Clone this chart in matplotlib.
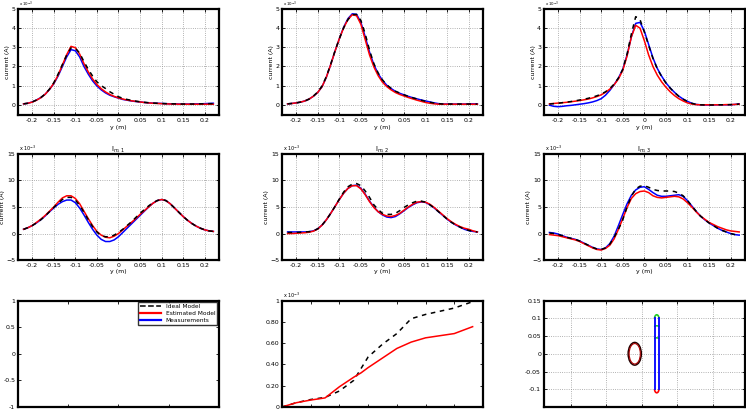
import numpy as np
import matplotlib
matplotlib.use('Agg')
import matplotlib.pyplot as plt
from matplotlib.patches import Ellipse, Arc

# y position (m), shared by the six current profiles
y_pos = np.round(np.arange(-0.22, 0.2201, 0.01), 2)

# top row: total current (x 10^-3 A)
top1_meas = [0.05, 0.08, 0.15, 0.25, 0.38, 0.55, 0.80, 1.10, 1.50, 2.00, 2.50, 2.88, 2.82, 2.50, 2.00, 1.60,
             1.25, 0.98, 0.78, 0.62, 0.50, 0.42, 0.35, 0.28, 0.24, 0.20, 0.17, 0.15, 0.12, 0.10, 0.09, 0.08,
             0.07, 0.06, 0.05, 0.05, 0.04, 0.04, 0.04, 0.04, 0.05, 0.05, 0.06, 0.07, 0.08]
top1_est = [0.05, 0.08, 0.14, 0.24, 0.37, 0.55, 0.80, 1.12, 1.55, 2.08, 2.62, 3.05, 2.98, 2.65, 2.15, 1.72,
            1.35, 1.06, 0.84, 0.67, 0.54, 0.44, 0.36, 0.30, 0.25, 0.21, 0.18, 0.15, 0.12, 0.10, 0.08, 0.07,
            0.06, 0.05, 0.04, 0.04, 0.03, 0.03, 0.03, 0.03, 0.03, 0.03, 0.03, 0.03, 0.03]
top1_ideal = [0.05, 0.08, 0.15, 0.25, 0.38, 0.56, 0.82, 1.15, 1.60, 2.10, 2.60, 2.97, 2.95, 2.70, 2.25, 1.85,
              1.50, 1.20, 1.00, 0.85, 0.68, 0.55, 0.42, 0.34, 0.28, 0.23, 0.19, 0.16, 0.13, 0.11, 0.09, 0.08,
              0.07, 0.06, 0.05, 0.05, 0.04, 0.04, 0.04, 0.04, 0.04, 0.05, 0.05, 0.06, 0.06]

top2_meas = [0.05, 0.07, 0.10, 0.14, 0.20, 0.30, 0.45, 0.65, 0.95, 1.45, 2.10, 2.80, 3.45, 4.05, 4.50, 4.75,
             4.72, 4.30, 3.55, 2.75, 2.10, 1.62, 1.28, 1.02, 0.85, 0.70, 0.60, 0.52, 0.44, 0.37, 0.31, 0.25,
             0.20, 0.15, 0.10, 0.06, 0.04, 0.04, 0.04, 0.04, 0.04, 0.04, 0.05, 0.05, 0.05]
top2_est = [0.05, 0.07, 0.10, 0.14, 0.20, 0.30, 0.45, 0.65, 0.95, 1.45, 2.10, 2.80, 3.45, 4.02, 4.45, 4.70,
            4.65, 4.20, 3.40, 2.60, 1.98, 1.52, 1.18, 0.95, 0.78, 0.64, 0.54, 0.46, 0.38, 0.31, 0.24, 0.18,
            0.12, 0.08, 0.05, 0.03, 0.03, 0.03, 0.03, 0.03, 0.03, 0.03, 0.03, 0.03, 0.03]
top2_ideal = [0.05, 0.07, 0.10, 0.14, 0.20, 0.30, 0.46, 0.67, 0.98, 1.48, 2.12, 2.82, 3.45, 4.02, 4.45, 4.70,
              4.72, 4.40, 3.70, 2.85, 2.15, 1.66, 1.30, 1.04, 0.86, 0.71, 0.61, 0.52, 0.44, 0.37, 0.30, 0.24,
              0.18, 0.13, 0.09, 0.06, 0.04, 0.04, 0.04, 0.04, 0.04, 0.04, 0.04, 0.04, 0.04]

top3_meas = [-0.02, -0.08, -0.10, -0.08, -0.05, -0.03, 0.00, 0.03, 0.06, 0.10, 0.15, 0.22, 0.32, 0.50, 0.75,
             1.05, 1.40, 1.85, 2.60, 3.55, 4.25, 4.30, 3.85, 3.15, 2.45, 1.90, 1.50, 1.15, 0.88, 0.65, 0.45,
             0.30, 0.18, 0.08, 0.02, 0.00, -0.01, -0.01, -0.01, 0.00, 0.00, 0.00, 0.00, 0.02, 0.05]
top3_est = [0.05, 0.07, 0.09, 0.11, 0.13, 0.16, 0.19, 0.22, 0.26, 0.30, 0.36, 0.43, 0.52, 0.65, 0.82,
            1.05, 1.35, 1.80, 2.55, 3.55, 4.15, 4.00, 3.35, 2.60, 2.00, 1.55, 1.20, 0.92, 0.68, 0.48, 0.32,
            0.20, 0.10, 0.04, 0.01, 0.00, 0.00, 0.00, 0.00, 0.00, 0.00, 0.01, 0.01, 0.02, 0.03]
top3_ideal = [0.04, 0.06, 0.08, 0.11, 0.14, 0.17, 0.21, 0.25, 0.29, 0.34, 0.40, 0.47, 0.56, 0.68, 0.85,
              1.08, 1.40, 1.85, 2.65, 3.70, 4.60, 4.45, 3.80, 3.10, 2.42, 1.88, 1.48, 1.14, 0.87, 0.64, 0.44,
              0.29, 0.17, 0.08, 0.02, 0.00, -0.01, -0.01, -0.01, 0.00, 0.00, 0.00, 0.01, 0.02, 0.04]

# middle row: mode currents I_m,1..3 (x 10^-3 A)
mid1_meas = [0.8, 1.1, 1.5, 2.0, 2.6, 3.3, 4.1, 4.8, 5.5, 6.0, 6.3, 6.3, 5.8, 4.8, 3.5, 2.1, 0.8, -0.3,
             -1.1, -1.5, -1.5, -1.2, -0.6, 0.2, 1.0, 1.8, 2.6, 3.4, 4.2, 5.0, 5.7, 6.2, 6.4, 6.2, 5.6, 4.8,
             4.0, 3.2, 2.5, 1.9, 1.4, 1.0, 0.7, 0.5, 0.4]
mid1_est = [0.8, 1.1, 1.5, 2.1, 2.7, 3.4, 4.2, 5.0, 5.9, 6.7, 7.1, 7.1, 6.6, 5.6, 4.2, 2.8, 1.5, 0.4,
            -0.3, -0.7, -0.8, -0.5, 0.0, 0.7, 1.4, 2.1, 2.8, 3.6, 4.3, 5.0, 5.7, 6.2, 6.4, 6.2, 5.6, 4.8,
            4.0, 3.2, 2.5, 1.9, 1.4, 1.0, 0.7, 0.5, 0.4]
mid1_ideal = [0.8, 1.1, 1.5, 2.0, 2.6, 3.3, 4.1, 4.9, 5.7, 6.4, 6.8, 6.8, 6.3, 5.3, 4.0, 2.6, 1.3, 0.3,
              -0.4, -0.6, -0.6, -0.3, 0.2, 0.8, 1.5, 2.2, 3.0, 3.8, 4.5, 5.2, 5.8, 6.2, 6.4, 6.2, 5.6, 4.8,
              4.0, 3.2, 2.5, 1.9, 1.4, 1.0, 0.7, 0.5, 0.4]

mid2_meas = [0.3, 0.3, 0.3, 0.3, 0.3, 0.35, 0.5, 0.9, 1.6, 2.6, 3.8, 5.1, 6.4, 7.6, 8.5, 9.0, 9.1, 8.5,
             7.4, 6.1, 5.0, 4.1, 3.5, 3.1, 3.0, 3.2, 3.7, 4.3, 4.9, 5.4, 5.8, 5.95, 5.85, 5.4, 4.8, 4.1,
             3.4, 2.7, 2.1, 1.6, 1.2, 0.8, 0.55, 0.4, 0.3]
mid2_est = [0.0, 0.0, 0.05, 0.1, 0.15, 0.25, 0.45, 0.85, 1.6, 2.6, 3.8, 5.1, 6.4, 7.6, 8.5, 9.0, 9.0, 8.4,
            7.3, 6.0, 4.9, 4.1, 3.6, 3.3, 3.2, 3.4, 3.8, 4.4, 5.0, 5.5, 5.9, 6.0, 5.9, 5.5, 4.9, 4.2,
            3.5, 2.8, 2.2, 1.7, 1.3, 1.0, 0.8, 0.5, 0.3]
mid2_ideal = [0.2, 0.2, 0.2, 0.25, 0.3, 0.35, 0.5, 0.9, 1.6, 2.6, 3.8, 5.1, 6.5, 7.8, 8.8, 9.3, 9.4, 9.0,
              8.0, 6.8, 5.4, 4.5, 3.8, 3.6, 3.6, 3.8, 4.3, 4.9, 5.4, 5.8, 6.1, 6.1, 5.9, 5.4, 4.8, 4.1,
              3.4, 2.7, 2.1, 1.6, 1.2, 0.8, 0.6, 0.4, 0.3]

mid3_meas = [0.2, 0.1, -0.1, -0.4, -0.7, -0.9, -1.1, -1.4, -1.8, -2.2, -2.6, -2.9, -3.0, -2.7, -1.9,
             -0.5, 1.5, 3.6, 5.6, 7.2, 8.2, 8.7, 8.8, 8.3, 7.7, 7.2, 7.0, 7.0, 7.1, 7.2, 7.3, 7.0, 6.2,
             5.2, 4.2, 3.3, 2.6, 2.0, 1.5, 1.0, 0.6, 0.3, 0.0, -0.2, -0.3]
mid3_est = [-0.2, -0.3, -0.4, -0.6, -0.8, -1.0, -1.2, -1.5, -1.9, -2.3, -2.7, -3.0, -3.1, -2.8, -2.2,
            -1.0, 0.8, 2.8, 4.9, 6.6, 7.5, 7.9, 8.0, 7.7, 7.1, 6.8, 6.7, 6.8, 6.9, 7.0, 6.9, 6.5, 5.8,
            5.0, 4.1, 3.3, 2.7, 2.1, 1.7, 1.3, 1.0, 0.7, 0.5, 0.4, 0.3]
mid3_ideal = [0.1, 0.0, -0.2, -0.4, -0.7, -0.9, -1.1, -1.4, -1.8, -2.2, -2.6, -2.9, -3.0, -2.7, -2.0,
              -0.7, 0.8, 2.6, 5.0, 7.0, 8.4, 8.9, 9.0, 8.7, 8.3, 8.1, 8.0, 8.0, 8.0, 7.9, 7.6, 7.1, 6.2,
              5.2, 4.2, 3.3, 2.6, 2.0, 1.5, 1.0, 0.6, 0.3, 0.0, -0.2, -0.3]

# bottom middle: cumulative curves (x 10^-3)
cum_x = [0, 0.5, 1, 1.5, 2, 2.5, 2.75, 3, 3.5, 4, 4.5, 5, 5.5, 6, 6.64]
cum_ideal = [0, 0.04, 0.07, 0.09, 0.15, 0.25, 0.36, 0.47, 0.59, 0.69, 0.83, 0.87, 0.90, 0.93, 0.99]
cum_est = [0, 0.04, 0.065, 0.085, 0.19, 0.28, 0.32, 0.37, 0.46, 0.55, 0.61, 0.65, 0.67, 0.69, 0.755]

# bottom right: geometry
loop_center = (-0.02, 0.0)
loop_size = (0.037, 0.064)
cond_x = 0.042
cond_width = 0.012
cond_top = 0.1
cond_bottom = -0.1
ring_y = [0.076, 0.042]

fig = plt.figure(figsize=(7.46, 4.09), dpi=100)

cols = [0.0241, 0.378, 0.729]
w = 0.2694
rows = [0.718, 0.364, 0.005]
h = 0.26

def style(ax, grid=True):
    for s in ax.spines.values():
        s.set_linewidth(1.6)
    ax.tick_params(direction='in', length=2.5, width=0.6, labelsize=4.5, pad=2,
                   top=True, right=True)
    if grid:
        ax.grid(True, linestyle=':', color='#999999', linewidth=0.6)
    ax.set_axisbelow(True)

def exponent(ax, size=3.5):
    ax.text(0.005, 1.004, r'x 10$^{-3}$', transform=ax.transAxes, fontsize=size,
            ha='left', va='bottom')

top_sets = [(top1_ideal, top1_est, top1_meas), (top2_ideal, top2_est, top2_meas),
            (top3_ideal, top3_est, top3_meas)]
mid_sets = [(mid1_ideal, mid1_est, mid1_meas), (mid2_ideal, mid2_est, mid2_meas),
            (mid3_ideal, mid3_est, mid3_meas)]

for r, sets in enumerate([top_sets, mid_sets]):
    for c, (ideal, est, meas) in enumerate(sets):
        ax = fig.add_axes([cols[c], rows[r], w, h])
        ax.plot(y_pos, meas, color='blue', lw=1.1)
        ax.plot(y_pos, est, color='red', lw=1.1)
        ax.plot(y_pos, ideal, color='black', lw=1.1, ls='--', dashes=(3, 3))
        ax.set_xlim(-0.233, 0.233)
        ax.set_xticks([-0.2, -0.15, -0.1, -0.05, 0, 0.05, 0.1, 0.15, 0.2])
        ax.set_xticklabels(['-0.2', '-0.15', '-0.1', '-0.05', '0', '0.05', '0.1', '0.15', '0.2'])
        if r == 0:
            ax.set_ylim(-0.55, 5)
            ax.set_yticks([0, 1, 2, 3, 4, 5])
            exponent(ax, size=2.8)
        else:
            ax.set_ylim(-5, 15)
            ax.set_yticks([-5, 0, 5, 10, 15])
            ax.set_title(r'I$_{m,%d}$' % (c + 1), fontsize=5, pad=2)
            exponent(ax)
        ax.set_xlabel('y (m)', fontsize=4.5, labelpad=1)
        ax.set_ylabel('current (A)', fontsize=4.5, labelpad=1)
        style(ax)

# legend panel
ax7 = fig.add_axes([cols[0], rows[2], w, h])
ax7.plot([], [], color='black', ls='--', lw=1.1, label='Ideal Model')
ax7.plot([], [], color='red', lw=1.6, label='Estimated Model')
ax7.plot([], [], color='blue', lw=1.6, label='Measurements')
ax7.set_xlim(0, 1)
ax7.set_ylim(-1, 1)
ax7.set_xticks([0, 0.25, 0.5, 0.75, 1])
ax7.set_xticklabels([])
ax7.set_yticks([-1, -0.5, 0, 0.5, 1])
ax7.set_yticklabels(['-1', '-0.5', '0', '0.5', '1'])
style(ax7, grid=False)
leg = ax7.legend(loc='upper right', fontsize=4.2, frameon=True, fancybox=False,
                 handlelength=3.5, borderpad=0.35, labelspacing=0.3, borderaxespad=0.3)
leg.get_frame().set_edgecolor('black')
leg.get_frame().set_linewidth(1.0)

# cumulative panel
ax8 = fig.add_axes([cols[1], rows[2], w, h])
ax8.plot(cum_x, cum_ideal, color='black', ls='--', lw=1.1, dashes=(3, 3))
ax8.plot(cum_x, cum_est, color='red', lw=1.1)
ax8.set_xlim(0, 7)
ax8.set_ylim(0, 1)
ax8.set_xticks(range(8))
ax8.set_xticklabels([])
ax8.set_yticks([0, 0.2, 0.4, 0.6, 0.8, 1])
ax8.set_yticklabels(['0', '0.20', '0.40', '0.60', '0.80', '1'])
style(ax8, grid=False)
exponent(ax8)

# geometry panel
ax9 = fig.add_axes([cols[2], rows[2], w, h])
ax9.set_xlim(-0.276, 0.29)
ax9.set_ylim(-0.15, 0.15)
ax9.set_xticks([-0.2, -0.1, 0, 0.1, 0.2])
ax9.set_xticklabels([])
ax9.set_yticks([-0.1, -0.05, 0, 0.05, 0.1, 0.15])
ax9.set_yticklabels(['-0.1', '-0.05', '0', '0.05', '0.1', '0.15'])
style(ax9)
ax9.add_patch(Ellipse(loop_center, loop_size[0], loop_size[1], fill=False,
                      edgecolor='#220000', lw=1.1))
ax9.add_patch(Ellipse(loop_center, loop_size[0] * 0.85, loop_size[1] * 0.9, fill=False,
                      edgecolor='#aa0000', lw=0.8))
half = cond_width / 2
ax9.plot([cond_x - half, cond_x - half], [cond_bottom, cond_top], color='blue', lw=1.3)
ax9.plot([cond_x + half, cond_x + half], [cond_bottom, cond_top], color='blue', lw=1.3)
ax9.add_patch(Arc((cond_x, cond_top), cond_width, 0.02, theta1=0, theta2=180,
                  color='#22cc22', lw=1.2))
ax9.add_patch(Arc((cond_x, cond_bottom), cond_width, 0.02, theta1=180, theta2=360,
                  color='red', lw=1.2))
for ry in ring_y:
    ax9.add_patch(Arc((cond_x, ry), cond_width, 0.006, theta1=0, theta2=180,
                      color='#22cc22', lw=1.1))

plt.savefig('out.png', dpi=100)
